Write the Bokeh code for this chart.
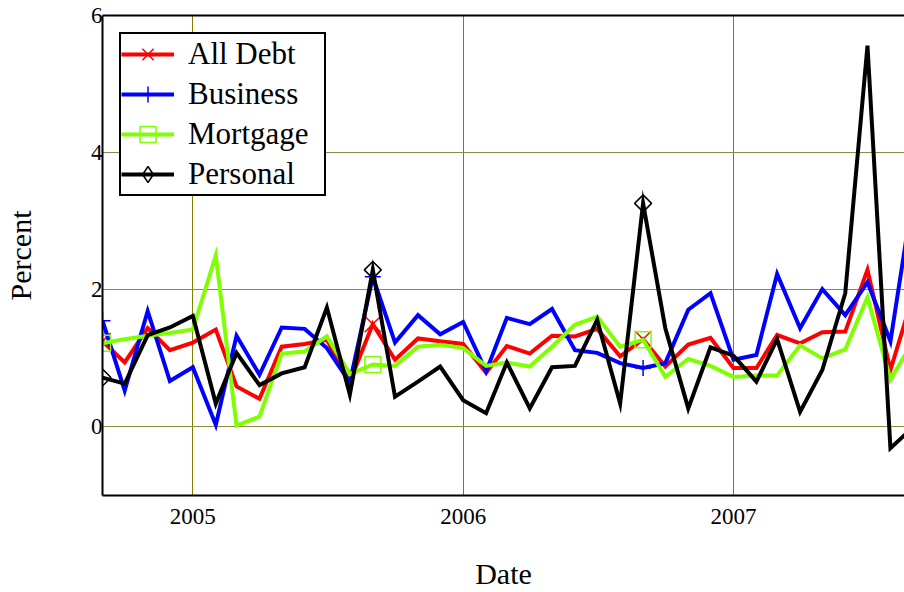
import numpy as np
import pandas as pd
from bokeh.plotting import figure
from bokeh.models import Range1d, FixedTicker, LinearAxis, Legend, LegendItem
from bokeh.embed import file_html
from bokeh.resources import INLINE

# ---- data (monthly percent values) ----
dates = pd.date_range("2004-09-01", periods=37, freq="MS")

all_debt = [1.25, 0.94, 1.44, 1.12, 1.23, 1.42, 0.59, 0.41, 1.17, 1.21, 1.27, 0.66,
            1.50, 0.98, 1.29, 1.25, 1.21, 0.79, 1.18, 1.07, 1.33, 1.32, 1.43, 1.03,
            1.28, 0.88, 1.20, 1.30, 0.86, 0.86, 1.34, 1.22, 1.38, 1.39, 2.29, 0.83,
            1.93]
business = [1.55, 0.53, 1.69, 0.67, 0.87, 0.03, 1.33, 0.76, 1.45, 1.43, 1.15, 0.65,
            2.19, 1.23, 1.63, 1.35, 1.53, 0.81, 1.59, 1.50, 1.72, 1.12, 1.08, 0.93,
            0.86, 0.93, 1.71, 1.95, 0.98, 1.05, 2.23, 1.44, 2.01, 1.63, 2.11, 1.25,
            3.41]
mortgage = [1.22, 1.28, 1.33, 1.37, 1.42, 2.50, 0.02, 0.15, 1.07, 1.10, 1.32, 0.77,
            0.91, 0.89, 1.17, 1.20, 1.15, 0.89, 0.94, 0.88, 1.17, 1.49, 1.61, 1.17,
            1.27, 0.73, 0.99, 0.89, 0.73, 0.75, 0.75, 1.19, 1.00, 1.13, 1.89, 0.69,
            1.25]
personal = [0.72, 0.63, 1.34, 1.45, 1.62, 0.34, 1.08, 0.61, 0.78, 0.87, 1.74, 0.47,
            2.29, 0.44, 0.66, 0.88, 0.39, 0.20, 0.94, 0.27, 0.87, 0.89, 1.56, 0.34,
            3.26, 1.44, 0.27, 1.16, 1.04, 0.66, 1.28, 0.22, 0.83, 1.95, 5.56, -0.31,
            0.00]

series_names = ["All Debt", "Business", "Mortgage", "Personal"]
series_values = [all_debt, business, mortgage, personal]
year_labels = ["2005", "2006", "2007"]
y_ticks = [0, 2, 4, 6]

# ---- styling ----
colors = ["#ff0000", "#0000ff", "#7fff00", "#000000"]
plot_markers = ["x", "cross", "square", "square"]
plot_angles = [0.0, 0.0, 0.0, np.pi / 4]
plot_sizes = [23, 16, 16, 12]
legend_markers = ["x", "cross", "square", "diamond"]
SERIF = "Liberation Serif"

p = figure(width=904, height=592, x_axis_type="datetime",
           output_backend="svg", toolbar_location=None,
           x_range=Range1d(dates[0], dates[0] + pd.Timedelta(days=1083)),
           y_range=Range1d(-1, 6),
           min_border_left=102, min_border_right=0,
           min_border_top=15, min_border_bottom=97)
p.outline_line_color = None
p.background_fill_color = "white"
p.border_fill_color = "white"

year_ms = [pd.Timestamp(f"{y}-01-01").value // 10**6 for y in year_labels]
xt = FixedTicker(ticks=year_ms, minor_ticks=[])
yt = FixedTicker(ticks=y_ticks, minor_ticks=[])
p.xaxis.ticker = xt
p.yaxis.ticker = yt
p.xgrid.ticker = xt
p.ygrid.ticker = yt
p.xaxis.major_label_overrides = {ms: lab for ms, lab in zip(year_ms, year_labels)}

p.xgrid.grid_line_color = "#808000"
p.ygrid.grid_line_color = "#8c8c40"
p.xgrid.grid_line_width = 1
p.ygrid.grid_line_width = 1.2

for ax in (p.xaxis[0], p.yaxis[0]):
    ax.axis_line_width = 2
    ax.axis_line_color = "black"
    ax.major_tick_line_color = None
    ax.minor_tick_line_color = None
    ax.major_tick_out = 0
    ax.major_tick_in = 0
    ax.major_label_text_font = SERIF
    ax.major_label_text_font_size = "23px"
    ax.major_label_text_color = "black"
    ax.axis_label_text_font = SERIF
    ax.axis_label_text_font_size = "30px"
    ax.axis_label_text_font_style = "normal"
    ax.axis_label_text_color = "black"

p.xaxis.axis_label = "Date"
p.yaxis.axis_label = "Percent"
p.xaxis.major_label_standoff = 13
p.xaxis.axis_label_standoff = 30
p.yaxis.major_label_standoff = 0
p.yaxis.axis_label_standoff = 51

top = LinearAxis(ticker=FixedTicker(ticks=[]), axis_line_width=2, axis_line_color="black",
                 major_tick_line_color=None, minor_tick_line_color=None,
                 major_tick_out=0, major_label_text_font_size="0px")
p.add_layout(top, "above")

items = []
for name, vals, c, m, ang, sz, lm in zip(series_names, series_values, colors, plot_markers,
                                         plot_angles, plot_sizes, legend_markers):
    ln = p.line(dates, vals, line_color=c, line_width=4, line_join="miter")
    p.scatter(dates[::12], vals[::12], marker=m, angle=ang, size=sz,
              line_color=c, line_width=1.5, fill_color=None)
    # legend-only marker proxy (a NaN value is never drawn in the plot)
    proxy = p.scatter(dates[:1], [np.nan], marker=lm, size=16,
                      line_color=c, line_width=1.5, fill_color=None)
    items.append(LegendItem(label=name, renderers=[ln, proxy]))

legend = Legend(items=items, location="top_left", margin=17, padding=0, spacing=0,
                glyph_width=53, glyph_height=40, label_height=40, label_width=136,
                label_standoff=14,
                label_text_font=SERIF, label_text_font_size="31px",
                label_text_color="black",
                border_line_color="black", border_line_width=2, border_line_alpha=1.0,
                background_fill_color="white", background_fill_alpha=1.0)
p.add_layout(legend)

open("out.html", "w").write(file_html(p, INLINE))
